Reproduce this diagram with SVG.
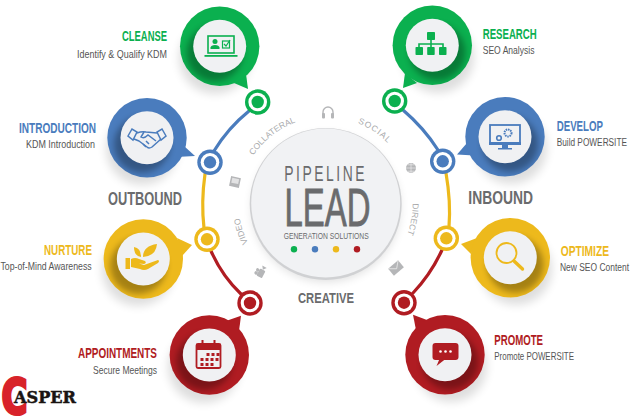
<svg xmlns="http://www.w3.org/2000/svg" xmlns:xlink="http://www.w3.org/1999/xlink" width="640" height="416" viewBox="0 0 640 416">
<style>
text{font-family:"Liberation Sans Narrow","Liberation Sans",Arial,sans-serif}
.g .f{fill:#0bb04f}.b .f{fill:#4a7cbd}.y .f{fill:#edb91c}.r .f{fill:#b01c22}
.g .s{stroke:#0bb04f}.b .s{stroke:#4a7cbd}.y .s{stroke:#edb91c}.r .s{stroke:#b01c22}
.t{font-size:15px;font-weight:700}
.d{font-size:11.5px;fill:#555}
.h{font-size:19px;font-weight:700;fill:#6a6b6d}
.a{font-size:8.5px;fill:#a9aaac}
.ic{fill:#b5b6b8}
.lk{fill:none;stroke-width:3.2;stroke-linecap:round}
.inner{fill:#f0f1f3}
.sh{fill:#000;opacity:.13}
</style>
<defs>
<filter id="soft" x="-50%" y="-50%" width="200%" height="200%"><feGaussianBlur stdDeviation="5"/></filter>
<filter id="soft2" x="-50%" y="-50%" width="200%" height="200%"><feGaussianBlur stdDeviation="3"/></filter>
<clipPath id="clipBubble"><circle r="39.7"/></clipPath>
<g id="inner-l">
<g clip-path="url(#clipBubble)"><circle cx="-5" cy="7" r="28" fill="#000" opacity=".3" filter="url(#soft2)"/></g>
<circle r="26.5" class="inner"/>
</g>
<g id="inner-r">
<g clip-path="url(#clipBubble)"><circle cx="5" cy="7" r="28" fill="#000" opacity=".3" filter="url(#soft2)"/></g>
<circle r="26.5" class="inner"/>
</g>
<g id="ringmark">
<circle r="12.7" fill="currentColor"/>
<circle r="9.3" fill="#fff"/>
<circle r="6.2" fill="currentColor"/>
</g>
<path id="ring-path" d="M325.7 291A87 87 0 1 1 325.7 117A87 87 0 1 1 325.7 291"/>
</defs>
<rect width="640" height="416" fill="#fff"/>

<g id="connectors">
<path class="lk" stroke="#4a7cbd" d="M249 111Q228 128 214 151"/>
<path class="lk" stroke="#edb91c" d="M205 174Q201 202 204 228"/>
<path class="lk" stroke="#b01c22" d="M211 251Q222 276 241 294"/>
<path class="lk" stroke="#4a7cbd" d="M403 110Q424 128 438 150"/>
<path class="lk" stroke="#edb91c" d="M446 173Q451 202 449 227"/>
<path class="lk" stroke="#b01c22" d="M442 250Q431 274 413 293"/>
</g>

<g id="center">
<circle cx="326" cy="208" r="74" fill="#000" opacity=".12" filter="url(#soft)"/>
<circle cx="325.7" cy="204" r="76" fill="#d0d1d3"/>
<circle cx="325.7" cy="203" r="74.5" fill="#f1f2f4"/>
<text x="284.3" y="180.7" font-size="22" fill="#6a6b6d" textLength="82.7" lengthAdjust="spacingAndGlyphs" style="font-family:'Liberation Sans',sans-serif;letter-spacing:4px">PIPELINE</text>
<text x="284.5" y="225.7" font-size="54" fill="#6a6b6d" stroke="#6a6b6d" stroke-width=".9" textLength="86" lengthAdjust="spacingAndGlyphs">LEAD</text>
<text x="283.7" y="239.3" font-size="9.5" fill="#6a6b6d" textLength="85" lengthAdjust="spacingAndGlyphs">GENERATION SOLUTIONS</text>
<circle cx="294" cy="249.3" r="3.2" fill="#0bb04f"/>
<circle cx="315" cy="249.3" r="3.2" fill="#4a7cbd"/>
<circle cx="336" cy="249.3" r="3.2" fill="#edb91c"/>
<circle cx="357" cy="249.3" r="3.2" fill="#b01c22"/>
</g>

<g id="ring-labels">
<text class="a"><textPath xlink:href="#ring-path" href="#ring-path" startOffset="39.4%" text-anchor="middle">COLLATERAL</textPath></text>
<text class="a" letter-spacing="1"><textPath xlink:href="#ring-path" href="#ring-path" startOffset="59.4%" text-anchor="middle">SOCIAL</textPath></text>
<text class="a"><textPath xlink:href="#ring-path" href="#ring-path" startOffset="77.8%" text-anchor="middle">DIRECT</textPath></text>
<text class="a"><textPath xlink:href="#ring-path" href="#ring-path" startOffset="20%" text-anchor="middle">VIDEO</textPath></text>
</g>

<g id="ring-icons">
<g id="ic-headphones" transform="translate(328 113)"><path d="M-5 2V-1A5 5 0 0 1 5 -1V2" fill="none" stroke="#b5b6b8" stroke-width="1.4"/><rect x="-6" y="0" width="3" height="5.5" rx="1" class="ic"/><rect x="3" y="0" width="3" height="5.5" rx="1" class="ic"/></g>
<g id="ic-globe" transform="translate(411 168)"><circle r="5" class="ic"/><path d="M-5 0H5M0-5V5M-3.5-3.2H3.5M-3.5 3.2H3.5" stroke="#f4f4f4" stroke-width=".6"/></g>
<g id="ic-doc" transform="translate(235 182) rotate(12)"><rect x="-5" y="-5" width="10" height="10" class="ic"/><rect x="-3.5" y="-3.6" width="7" height="5" fill="#e2e2e3"/></g>
<g id="ic-cam" transform="translate(261.7 272) rotate(-62)"><rect x="-5.5" y="-3" width="8" height="6" rx="1" class="ic"/><path d="M2.5 0L6 -2.5V2.5Z" class="ic"/><circle cx="-3.4" cy="-4.5" r="1.7" class="ic"/><circle cx="0" cy="-4.5" r="1.7" class="ic"/></g>
<g id="ic-mail" transform="translate(396 268) rotate(-40)"><rect x="-6.5" y="-4.5" width="13" height="9" class="ic"/><path d="M-6.5-4.5L0 1L6.5-4.5" fill="none" stroke="#e8e8e8" stroke-width=".8"/></g>
</g>

<text id="lbl-outbound" class="h" x="108" y="205" textLength="74" lengthAdjust="spacingAndGlyphs">OUTBOUND</text>
<text id="lbl-inbound" class="h" x="468.3" y="203.7" textLength="64.7" lengthAdjust="spacingAndGlyphs">INBOUND</text>
<text id="lbl-creative" class="h" x="298" y="302.7" style="font-size:15.5px" textLength="56" lengthAdjust="spacingAndGlyphs">CREATIVE</text>

<g id="cleanse" class="g" color="#0bb04f">
<circle cx="215" cy="58" r="36" class="sh" filter="url(#soft)"/>
<path class="f" d="M234 83L248 89L246 74Z"/>
<circle cx="219.7" cy="46.3" r="39.7" class="f"/>
<use href="#inner-l" x="219.7" y="46.3"/>
<g transform="translate(221 46)">
<rect x="-13" y="-10" width="26" height="17" fill="none" class="s" stroke-width="1.6"/>
<circle cx="-6" cy="-4.5" r="2.5" class="f"/><path d="M-10.5 3V1.5Q-10 -1 -6 -1Q-2 -1 -1.5 1.5V3Z" class="f"/>
<rect x="1.5" y="-5" width="7" height="7" fill="none" class="s" stroke-width="1.2"/>
<path d="M3 -2L5 0L9 -6" fill="none" class="s" stroke-width="1.2"/>
<rect x="-16.5" y="9" width="33" height="1.8" class="f"/>
</g>
<text class="t f" x="167" y="41" text-anchor="end" textLength="45" lengthAdjust="spacingAndGlyphs">CLEANSE</text>
<text class="d" x="167" y="57.5" text-anchor="end" textLength="90" lengthAdjust="spacingAndGlyphs">Identify &amp; Qualify KDM</text>
<use href="#ringmark" x="257.7" y="102"/>
</g>

<g id="introduction" class="b" color="#4a7cbd">
<circle cx="142" cy="149" r="36" class="sh" filter="url(#soft)"/>
<path class="f" d="M184 146L195 156L176 157Z"/>
<circle cx="147" cy="137.7" r="39.7" class="f"/>
<use href="#inner-l" x="147" y="137.7"/>
<g transform="translate(147 138)" fill="none" class="s" stroke-width="1.5">
<path d="M-19 -2L-15 -9L-10 -6L-14 2Z"/><path d="M19 -2L15 -9L10 -6L14 2Z"/>
<path d="M-10 -5Q-5 -7 -1 -6L10 -5M14 1L5 9Q2 11 0 9L-8 3L-13 1" stroke-linejoin="round"/>
<path d="M-3 -6L-6 -1Q-3 1 1 -3L9 3M2 6L-1 3M-1 9L-4 6"/>
</g>
<text class="t f" x="96" y="132.7" text-anchor="end" textLength="77" lengthAdjust="spacingAndGlyphs">INTRODUCTION</text>
<text class="d" x="95" y="147.5" text-anchor="end" textLength="69" lengthAdjust="spacingAndGlyphs">KDM Introduction</text>
<use href="#ringmark" x="210" y="162.3"/>
</g>

<g id="nurture" class="y" color="#edb91c">
<circle cx="138" cy="270" r="36" class="sh" filter="url(#soft)"/>
<path class="f" d="M177 238L192 245L182 256Z"/>
<circle cx="143.3" cy="259" r="39.7" class="f"/>
<use href="#inner-l" x="143.3" y="259"/>
<g transform="translate(142 258)" class="f">
<rect x="-16.5" y="0" width="4.5" height="11"/>
<path d="M-11 1Q-7 -1 -3 1L3 3Q5 5 2 6L-3 5.5L2 7L16 2Q18 3 16 5L6 11Q2 13 -2 11L-11 9Z"/>
<path d="M-1 -1Q-8 -2 -8 -11Q-1 -10 -1 -1Z"/>
<path d="M1 -1Q1 -12 15 -14Q14 -2 1 -1Z"/>
</g>
<text class="t f" x="92" y="255" text-anchor="end" textLength="48" lengthAdjust="spacingAndGlyphs">NURTURE</text>
<text class="d" transform="translate(.5 270.3) scale(.8 1)" textLength="114" lengthAdjust="spacingAndGlyphs">Top-of-Mind Awareness</text>
<use href="#ringmark" x="207" y="239.3"/>
</g>

<g id="appointments" class="r" color="#b01c22">
<circle cx="204" cy="367" r="36" class="sh" filter="url(#soft)"/>
<path class="f" d="M226 321L241 315.7L239 331Z"/>
<circle cx="209.3" cy="355" r="39.7" class="f"/>
<use href="#inner-l" x="209.3" y="355"/>
<g transform="translate(208.5 355)">
<rect x="-12" y="-11" width="24" height="24" rx="1.5" fill="none" class="s" stroke-width="1.8"/>
<rect x="-12" y="-11" width="24" height="6" class="f"/>
<rect x="-7" y="-15" width="2" height="7" class="f"/><rect x="5" y="-15" width="2" height="7" class="f"/>
<path d="M-2-2h3v3h-3zM3-2h3v3h-3zM8-2h3v3h-3zM-8 3h3v3h-3zM-3 3h3v3h-3zM2 3h3v3h-3zM7 3h3v3h-3zM-8 8h3v3h-3zM-3 8h3v3h-3zM2 8h3v3h-3z" class="f"/>
</g>
<text class="t f" x="157" y="357.7" text-anchor="end" textLength="79" lengthAdjust="spacingAndGlyphs">APPOINTMENTS</text>
<text class="d" x="157" y="373.7" text-anchor="end" textLength="64" lengthAdjust="spacingAndGlyphs">Secure Meetings</text>
<use href="#ringmark" x="250" y="303"/>
</g>

<g id="research" class="g" color="#0bb04f">
<circle cx="438" cy="57" r="36" class="sh" filter="url(#soft)"/>
<path class="f" d="M405 73L403 88L417 83Z"/>
<circle cx="432.3" cy="45.3" r="39.7" class="f"/>
<use href="#inner-r" x="432.3" y="45.3"/>
<g transform="translate(431 45)">
<rect x="-4" y="-13" width="8" height="8" rx=".8" class="f"/>
<path d="M0-5V2M-12 2V-1H12V2" fill="none" class="s" stroke-width="1.6"/>
<rect x="-15.5" y="2" width="7.5" height="8" rx=".8" class="f"/>
<rect x="-3.8" y="2" width="7.5" height="8" rx=".8" class="f"/>
<rect x="8" y="2" width="7.5" height="8" rx=".8" class="f"/>
</g>
<text class="t f" x="482.7" y="38.7" textLength="54" lengthAdjust="spacingAndGlyphs">RESEARCH</text>
<text class="d" x="482.7" y="53.5" textLength="51.8" lengthAdjust="spacingAndGlyphs">SEO Analysis</text>
<use href="#ringmark" x="394.7" y="101"/>
</g>

<g id="develop" class="b" color="#4a7cbd">
<circle cx="511" cy="148" r="36" class="sh" filter="url(#soft)"/>
<path class="f" d="M467 143L457 154.5L474 155.5Z"/>
<circle cx="505" cy="136.7" r="39.7" class="f"/>
<use href="#inner-r" x="505" y="136.7"/>
<g transform="translate(505 137)">
<rect x="-15" y="-12" width="30" height="19" fill="none" class="s" stroke-width="1.8"/>
<rect x="-16" y="5" width="32" height="3" class="f"/>
<path d="M-3 8V11H-7V12.5H7V11H3V8Z" class="f"/>
<circle cx="3" cy="-4" r="3.5" fill="none" class="s" stroke-width="2" stroke-dasharray="1.5 .8"/>
<circle cx="-6" cy="1" r="2.3" fill="none" class="s" stroke-width="1.6"/>
</g>
<text class="t f" x="556.7" y="130.7" textLength="46.3" lengthAdjust="spacingAndGlyphs">DEVELOP</text>
<text class="d" transform="translate(556.7 146) scale(.75 1)" textLength="93.7" lengthAdjust="spacingAndGlyphs">Build POWERSITE</text>
<use href="#ringmark" x="442.7" y="161.3"/>
</g>

<g id="optimize" class="y" color="#edb91c">
<circle cx="516" cy="269" r="36" class="sh" filter="url(#soft)"/>
<path class="f" d="M477 238L461 244L471 254Z"/>
<circle cx="510.3" cy="257.7" r="39.7" class="f"/>
<use href="#inner-r" x="510.3" y="257.7"/>
<g transform="translate(509 257)" fill="none" class="s">
<circle cx="-2.5" cy="-4" r="10" stroke-width="1.8"/>
<path d="M5 4L13.5 12" stroke-width="3.4" stroke-linecap="round"/>
</g>
<text class="t f" x="560.7" y="256" textLength="48.3" lengthAdjust="spacingAndGlyphs">OPTIMIZE</text>
<text class="d" transform="translate(560 271.3) scale(.75 1)" textLength="92" lengthAdjust="spacingAndGlyphs">New SEO Content</text>
<use href="#ringmark" x="446.3" y="238.3"/>
</g>

<g id="promote" class="r" color="#b01c22">
<circle cx="451" cy="366" r="36" class="sh" filter="url(#soft)"/>
<path class="f" d="M427 320L413 314.7L416 330Z"/>
<circle cx="445" cy="354.7" r="39.7" class="f"/>
<use href="#inner-r" x="445" y="354.7"/>
<g transform="translate(445.5 353)">
<rect x="-13" y="-10" width="26" height="17" rx="3" class="f"/>
<path d="M-6 6L-9 13L0 6Z" class="f"/>
<circle cx="-5" cy="-1.5" r="1.3" fill="#fff"/><circle cx="0" cy="-1.5" r="1.3" fill="#fff"/><circle cx="5" cy="-1.5" r="1.3" fill="#fff"/>
</g>
<text class="t f" x="494.3" y="345" textLength="48.7" lengthAdjust="spacingAndGlyphs">PROMOTE</text>
<text class="d" x="494.3" y="360.3" textLength="79.7" lengthAdjust="spacingAndGlyphs">Promote POWERSITE</text>
<use href="#ringmark" x="404" y="302.7"/>
</g>

<g id="logo">
<text x="1.5" y="414" font-size="49" font-weight="700" fill="#d8232a" stroke="#d8232a" stroke-width="3.2" textLength="26" lengthAdjust="spacingAndGlyphs" style="font-family:'DejaVu Sans',sans-serif">C</text>
<text x="14" y="403" font-size="16" font-weight="700" fill="#1a1412" stroke="#1a1412" stroke-width=".5" textLength="62" lengthAdjust="spacingAndGlyphs" style="font-family:'DejaVu Serif',serif">ASPER</text>
</g>
</svg>
